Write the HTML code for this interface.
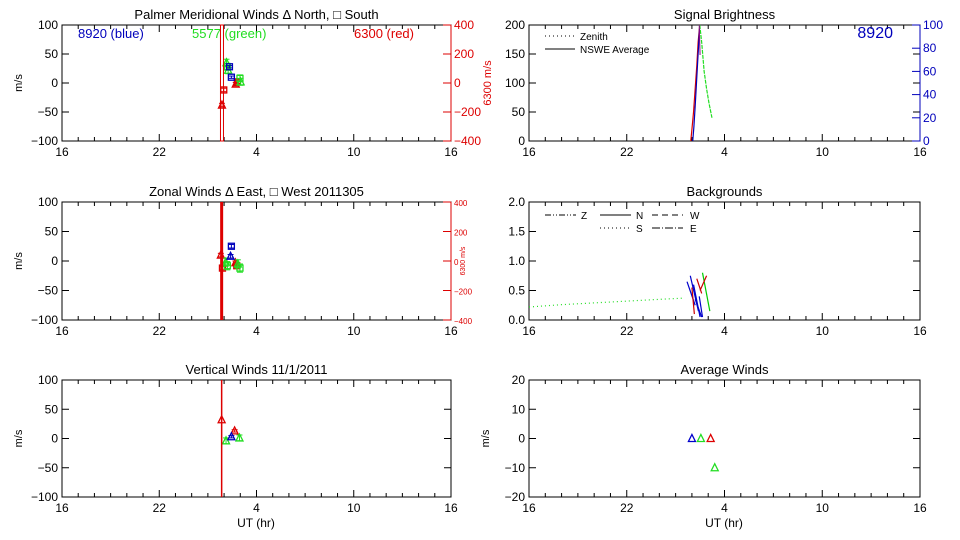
<!DOCTYPE html>
<html><head><meta charset="utf-8"><style>
html,body{margin:0;padding:0;background:#fff;}
svg{display:block;font-family:"Liberation Sans",sans-serif;}
</style></head><body>
<svg id="fig" width="960" height="540" viewBox="0 0 960 540" xmlns="http://www.w3.org/2000/svg"></svg>
<script>
// ---- data ----
const xTickLabels = ["16","22","4","10","16"];
// meridional winds: hour UT, value (m/s)
const merRedHours = [1.87, 1.98, 2.72, 2.82];
const merRedVals = [-38, -12, -2, 2];
const merRedSym = ["tri","sq","tri","sq"];
const merGreenHours = [2.15, 2.2, 2.25, 2.98, 3.02];
const merGreenVals = [35, 28, 22, 8, 2];
const merGreenSym = ["tri","sq","tri","sq","tri"];
const merBlueHours = [2.33, 2.45];
const merBlueVals = [28, 10];
// zonal winds
const zonRedHours = [1.8, 1.9, 2.7, 2.78];
const zonRedVals = [10, -12, -3, -8];
const zonGreenHours = [2.1, 2.2, 2.85, 2.98];
const zonGreenVals = [-2, -8, -5, -12];
const zonBlueHours = [2.45, 2.4];
const zonBlueVals = [25, 8];
// vertical winds
const verRedHours = [1.85, 2.65];
const verRedVals = [32, 13];
const verGreenHours = [2.12, 2.95];
const verGreenVals = [-4, 1];
const verBlueHours = [2.45];
const verBlueVals = [3];
// signal brightness
const brRedHours = [1.93, 2.0, 2.1, 2.2, 2.3, 2.38, 2.48];
const brRedVals = [0, 20, 50, 90, 130, 170, 200];
const brBlueHours = [2.05, 2.12, 2.2, 2.3, 2.4, 2.48];
const brBlueVals = [0, 12, 30, 55, 80, 100];
const brGreenHours = [2.48, 2.6, 2.75, 2.9, 3.05, 3.23];
const brGreenVals = [200, 170, 120, 90, 65, 40];
// backgrounds
const bgZenHours = [16, 18, 20, 22, 24, 25.45];
const bgZenVals = [0.22, 0.26, 0.29, 0.32, 0.35, 0.37];
const bgLineH1 = [1.7, 1.9, 2.1, 2.2, 2.0, 2.45, 2.3, 2.65, 2.5];
const bgLineV1 = [0.65, 0.75, 0.6, 0.35, 0.55, 0.4, 0.7, 0.8, 0.5];
const bgLineH2 = [2.2, 2.4, 2.5, 2.6, 2.15, 2.65, 2.6, 3.1, 2.9];
const bgLineV2 = [0.25, 0.15, 0.05, 0.05, 0.1, 0.05, 0.45, 0.15, 0.75];
const bgLineColor = ["#00c","#00c","#00c","#00c","#c00","#00c","#c00","#0c0","#c00"];
// average winds
const avgHours = [2.0, 2.55, 3.15, 3.4];
const avgVals = [0, 0, 0, -10];
const avgColors = ["#00c","#2d2","#d00","#2d2"];

// ---- helpers ----
const svg = document.getElementById('fig');
const NS = "http://www.w3.org/2000/svg";
function mk(tag, attrs, parent){const e=document.createElementNS(NS,tag);for(const k in attrs)e.setAttribute(k,attrs[k]);(parent||svg).appendChild(e);return e;}
function txt(x,y,s,attrs){const e=mk('text',Object.assign({x:x,y:y,'font-size':12},attrs||{}));e.textContent=s;return e;}
const RED="#d00", GRN="#2d2", BLU="#00b";
function panel(name,L,R,T,B,ymin,ymax){
  const p={L,R,T,B,ymin,ymax};
  p.x=h=>{let hh=h<16?h+24:h;return L+(hh-16)*(R-L)/24;};
  p.y=v=>B-(v-ymin)*(B-T)/(ymax-ymin);
  const g=mk('g',{});
  
  
  p.g=g;
  mk('rect',{x:L,y:T,width:R-L,height:B-T,fill:'none',stroke:'#000','stroke-width':1},g);
  for(let i=0;i<=24;i++){
    const x=L+i*(R-L)/24, len=(i%6==0)?7:4;
    mk('line',{x1:x,y1:B,x2:x,y2:B-len,stroke:'#000'},g);
    mk('line',{x1:x,y1:T,x2:x,y2:T+len,stroke:'#000'},g);
  }
  xTickLabels.forEach((s,i)=>{const t=txt(L+i*(R-L)/4,B+15,s,{'text-anchor':'middle'});g.appendChild(t);});
  return p;
}
function yTicks(p,vals,fmt){vals.forEach(v=>{const y=p.y(v);mk('line',{x1:p.L,y1:y,x2:p.L+7,y2:y,stroke:'#000'},p.g);mk('line',{x1:p.R,y1:y,x2:p.R-7,y2:y,stroke:'#000'},p.g);const t=txt(p.L-4,y+4,fmt?fmt(v):String(v).replace('-','\u2212'),{'text-anchor':'end'});p.g.appendChild(t);});}
function ytitle(p,s){const t=txt(0,0,s,{transform:`translate(${p.L-40},${(p.T+p.B)/2}) rotate(-90)`,'text-anchor':'middle','font-size':11});p.g.appendChild(t);}
function title(p,s){const t=txt((p.L+p.R)/2,p.T-6,s,{'text-anchor':'middle','font-size':13});p.g.appendChild(t);}
function sym(p,h,v,col,type,err,nm){
  const x=p.x(h),y=p.y(v);const g=mk('g',{},p.g);
  
  
  if(err){mk('line',{x1:x,y1:p.y(v+err),x2:x,y2:p.y(v-err),stroke:col},g);mk('line',{x1:x-3,y1:p.y(v+err),x2:x+3,y2:p.y(v+err),stroke:col},g);mk('line',{x1:x-3,y1:p.y(v-err),x2:x+3,y2:p.y(v-err),stroke:col},g);}
  if(type=='sq')mk('rect',{x:x-3,y:y-3,width:6,height:6,fill:'none',stroke:col,'stroke-width':1.3},g);
  else mk('polygon',{points:`${x},${y-4} ${x-3.5},${y+3} ${x+3.5},${y+3}`,fill:'none',stroke:col,'stroke-width':1.3},g);
}
function poly(p,hs,vs,col,nm,dash,yf){const pts=hs.map((h,i)=>p.x(h)+','+(yf?yf(vs[i]):p.y(vs[i]))).join(' ');const e=mk('polyline',{points:pts,fill:'none',stroke:col,'stroke-width':1.2},p.g);if(dash)e.setAttribute('stroke-dasharray',dash);return e;}
function rightAxis(p,vals,min,max,col,fs,label,off){
  const yf=v=>p.B-(v-min)*(p.B-p.T)/(max-min);
  mk('line',{x1:p.R,y1:p.T,x2:p.R,y2:p.B,stroke:col},p.g);
  vals.forEach(v=>{const y=yf(v);mk('line',{x1:p.R-8,y1:y,x2:p.R,y2:y,stroke:col},p.g);const t=txt(p.R+3,y+4,String(v).replace('-','\u2212'),{fill:col,'font-size':fs});p.g.appendChild(t);});
  if(label){const t=txt(0,0,label,{transform:`translate(${p.R+off},${(p.T+p.B)/2}) rotate(-90)`,'text-anchor':'middle',fill:col,'font-size':fs-1});p.g.appendChild(t);}
  return yf;
}

// ---- panel 1: meridional ----
const p1=panel('meridional-winds-panel',62,451,25,141,-100,100);
yTicks(p1,[100,50,0,-50,-100]);ytitle(p1,'m/s');
title(p1,'Palmer Meridional Winds \u0394 North, \u25A1 South');
rightAxis(p1,[400,200,0,-200,-400],-400,400,RED,12,'6300 m/s',40);
txt(78,38,'8920 (blue)',{fill:BLU,'font-size':13});
txt(192,38,'5577 (green)',{fill:GRN,'font-size':13});
txt(354,38,'6300 (red)',{fill:RED,'font-size':13});
mk('rect',{x:p1.x(1.87)-1.5,y:p1.T,width:3,height:p1.B-p1.T,fill:'none',stroke:RED,'stroke-width':1});
merRedHours.forEach((h,i)=>sym(p1,h,merRedVals[i],RED,merRedSym[i],3,'red-point'));
merGreenHours.forEach((h,i)=>sym(p1,h,merGreenVals[i],GRN,merGreenSym[i],6,'green-point'));
merBlueHours.forEach((h,i)=>sym(p1,h,merBlueVals[i],BLU,'sq',2,'blue-point'));

// ---- panel 2: zonal ----
const p2=panel('zonal-winds-panel',62,451,202,320,-100,100);
yTicks(p2,[100,50,0,-50,-100]);ytitle(p2,'m/s');
title(p2,'Zonal Winds \u0394 East, \u25A1 West 2011305');
rightAxis(p2,[400,200,0,-200,-400],-400,400,RED,8,'6300 m/s',14);
mk('line',{x1:p2.x(1.85),y1:p2.T,x2:p2.x(1.85),y2:p2.B,stroke:RED,'stroke-width':3});
zonRedHours.forEach((h,i)=>sym(p2,h,zonRedVals[i],RED,i%2?'sq':'tri',3,'red-point'));
zonGreenHours.forEach((h,i)=>sym(p2,h,zonGreenVals[i],GRN,i%2?'sq':'tri',7,'green-point'));
zonBlueHours.forEach((h,i)=>sym(p2,h,zonBlueVals[i],BLU,i?'tri':'sq',3,'blue-point'));

// ---- panel 3: vertical ----
const p3=panel('vertical-winds-panel',62,451,380,497,-100,100);
yTicks(p3,[100,50,0,-50,-100]);ytitle(p3,'m/s');
title(p3,'Vertical Winds 11/1/2011');
txt(256,527,'UT (hr)',{'text-anchor':'middle'});
mk('line',{x1:p3.x(1.85),y1:p3.T,x2:p3.x(1.85),y2:p3.B,stroke:RED,'stroke-width':1.5});
verRedHours.forEach((h,i)=>sym(p3,h,verRedVals[i],RED,'tri',i?2:0,'red-point'));
verGreenHours.forEach((h,i)=>sym(p3,h,verGreenVals[i],GRN,'tri',5,'green-point'));
verBlueHours.forEach((h,i)=>sym(p3,h,verBlueVals[i],BLU,'tri',2,'blue-point'));

// ---- panel 4: brightness ----
const p4=panel('signal-brightness-panel',529,920,25,141,0,200);
yTicks(p4,[200,150,100,50,0]);
title(p4,'Signal Brightness');
const yb=rightAxis(p4,[100,80,60,40,20,0],0,100,BLU,12,null,0);
txt(893,38,'8920',{fill:BLU,'font-size':16,'text-anchor':'end'});
mk('line',{x1:545,y1:36,x2:575,y2:36,stroke:'#000','stroke-dasharray':'1,3'});txt(580,40,'Zenith',{'font-size':10});
mk('line',{x1:545,y1:49,x2:575,y2:49,stroke:'#000'});txt(580,53,'NSWE Average',{'font-size':10});
poly(p4,brRedHours,brRedVals,RED,'brightness-red');
poly(p4,brBlueHours,brBlueVals,BLU,'brightness-blue',null,yb);
poly(p4,brGreenHours,brGreenVals,GRN,'brightness-green','4,1');
mk('line',{x1:p4.x(2.45),y1:p4.T,x2:p4.x(2.5),y2:p4.T+30,stroke:'#808'});

// ---- panel 5: backgrounds ----
const p5=panel('backgrounds-panel',529,920,202,320,0,2.0);
yTicks(p5,[2,1.5,1,0.5,0],v=>v.toFixed(1));
title(p5,'Backgrounds');
[[545,215,'6,2,1,2,1,2','Z',581],[600,215,'','N',636],[652,215,'6,4','W',690],[600,228,'1,3','S',636],[652,228,'8,2,1,2','E',690]].forEach(l=>{mk('line',{x1:l[0],y1:l[1],x2:l[0]+31,y2:l[1],stroke:'#000','stroke-dasharray':l[2]||'none'});txt(l[4],l[1]+4,l[3],{'font-size':10});});
poly(p5,bgZenHours,bgZenVals,GRN,'background-zenith','1,3');
bgLineH1.forEach((h,i)=>{const e=mk('line',{x1:p5.x(h),y1:p5.y(bgLineV1[i]),x2:p5.x(bgLineH2[i]),y2:p5.y(bgLineV2[i]),stroke:bgLineColor[i],'stroke-width':1.2},p5.g);});

// ---- panel 6: average winds ----
const p6=panel('average-winds-panel',529,920,380,497,-20,20);
yTicks(p6,[20,10,0,-10,-20]);ytitle(p6,'m/s');
title(p6,'Average Winds');
txt(724,527,'UT (hr)',{'text-anchor':'middle'});
avgHours.forEach((h,i)=>sym(p6,h,avgVals[i],avgColors[i],'tri',0,'average-wind-point'));
</script>
</body></html>
